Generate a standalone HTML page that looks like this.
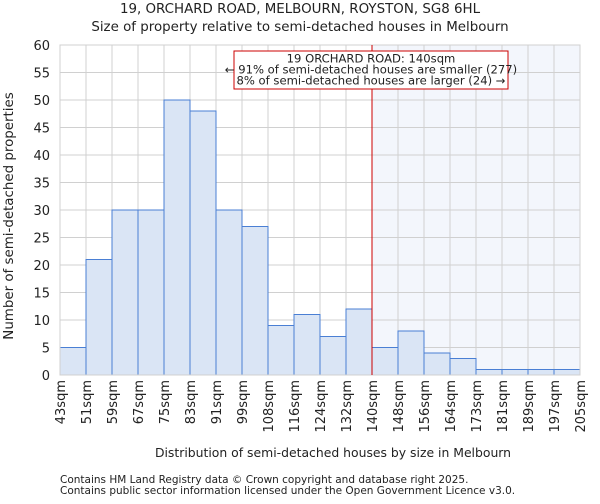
<!DOCTYPE html>
<html><head><meta charset="utf-8"><style>
body{margin:0;background:#fff;font-family:"DejaVu Sans","Liberation Sans",sans-serif;}
svg text{font-family:"DejaVu Sans","Liberation Sans",sans-serif;fill:#222;}
</style></head><body>
<svg id="c" width="600" height="500" xmlns="http://www.w3.org/2000/svg">
<text x="300" y="13" font-size="13.4" text-anchor="middle">19, ORCHARD ROAD, MELBOURN, ROYSTON, SG8 6HL</text>
<text x="300" y="31" font-size="13.4" text-anchor="middle">Size of property relative to semi-detached houses in Melbourn</text>
<text x="333" y="457" font-size="12.4" text-anchor="middle">Distribution of semi-detached houses by size in Melbourn</text>
<text transform="translate(13,216) rotate(-90)" font-size="13.4" text-anchor="middle">Number of semi-detached properties</text>
<text x="60" y="483" font-size="10.5">Contains HM Land Registry data © Crown copyright and database right 2025.</text>
<text x="60" y="494" font-size="10.5">Contains public sector information licensed under the Open Government Licence v3.0.</text>
</svg>
<script>
const categories=["43sqm","51sqm","59sqm","67sqm","75sqm","83sqm","91sqm","99sqm","108sqm","116sqm","124sqm","132sqm","140sqm","148sqm","156sqm","164sqm","173sqm","181sqm","189sqm","197sqm","205sqm"];
const counts=[5,21,30,30,50,48,30,27,9,11,7,12,5,8,4,3,1,1,1,1];
const yTicks=[0,5,10,15,20,25,30,35,40,45,50,55,60];
const markerBin=12;
const svg=document.getElementById('c');const NS="http://www.w3.org/2000/svg";
const L=60,R=580,T=45,B=375,yMax=60;
const bw=(R-L)/counts.length;
const x=i=>L+i*bw, y=v=>B-(v/yMax)*(B-T);
function mk(t,a){const e=document.createElementNS(NS,t);for(const k in a)e.setAttribute(k,a[k]);svg.appendChild(e);return e;}
let e=mk('rect',{x:x(markerBin),y:T,width:R-x(markerBin),height:B-T,fill:'#f3f6fc'});


yTicks.forEach(v=>{let g=mk('line',{x1:L,x2:R,y1:y(v),y2:y(v),stroke:'#d0d0d0'});


let t=mk('text',{x:L-10,y:y(v)+5,'font-size':13,'text-anchor':'end'});t.textContent=v;

});
categories.forEach((c,i)=>{let g=mk('line',{x1:x(i),x2:x(i),y1:T,y2:B,stroke:'#d0d0d0'});


let t=mk('text',{transform:`translate(${x(i)+5},${B+5}) rotate(-90)`,'font-size':13,'text-anchor':'end'});t.textContent=c;

});
counts.forEach((v,i)=>{let r=mk('rect',{x:x(i),y:y(v),width:bw,height:B-y(v),fill:'#dae5f5',stroke:'#4a7fd4','stroke-width':1});

});
e=mk('rect',{x:L,y:T,width:R-L,height:B-T,fill:'none',stroke:'#d0d0d0'});


e=mk('line',{x1:x(markerBin),x2:x(markerBin),y1:T,y2:B,stroke:'#cc0000','stroke-width':1});


e=mk('rect',{x:234,y:51,width:274,height:38,fill:'#fff',stroke:'#cc0000'});


["19 ORCHARD ROAD: 140sqm","← 91% of semi-detached houses are smaller (277)","8% of semi-detached houses are larger (24) →"].forEach((s,i)=>{let t=mk('text',{x:371,y:62.5+i*11,'font-size':11.6,'text-anchor':'middle'});t.textContent=s;

});
</script>
</body></html>
